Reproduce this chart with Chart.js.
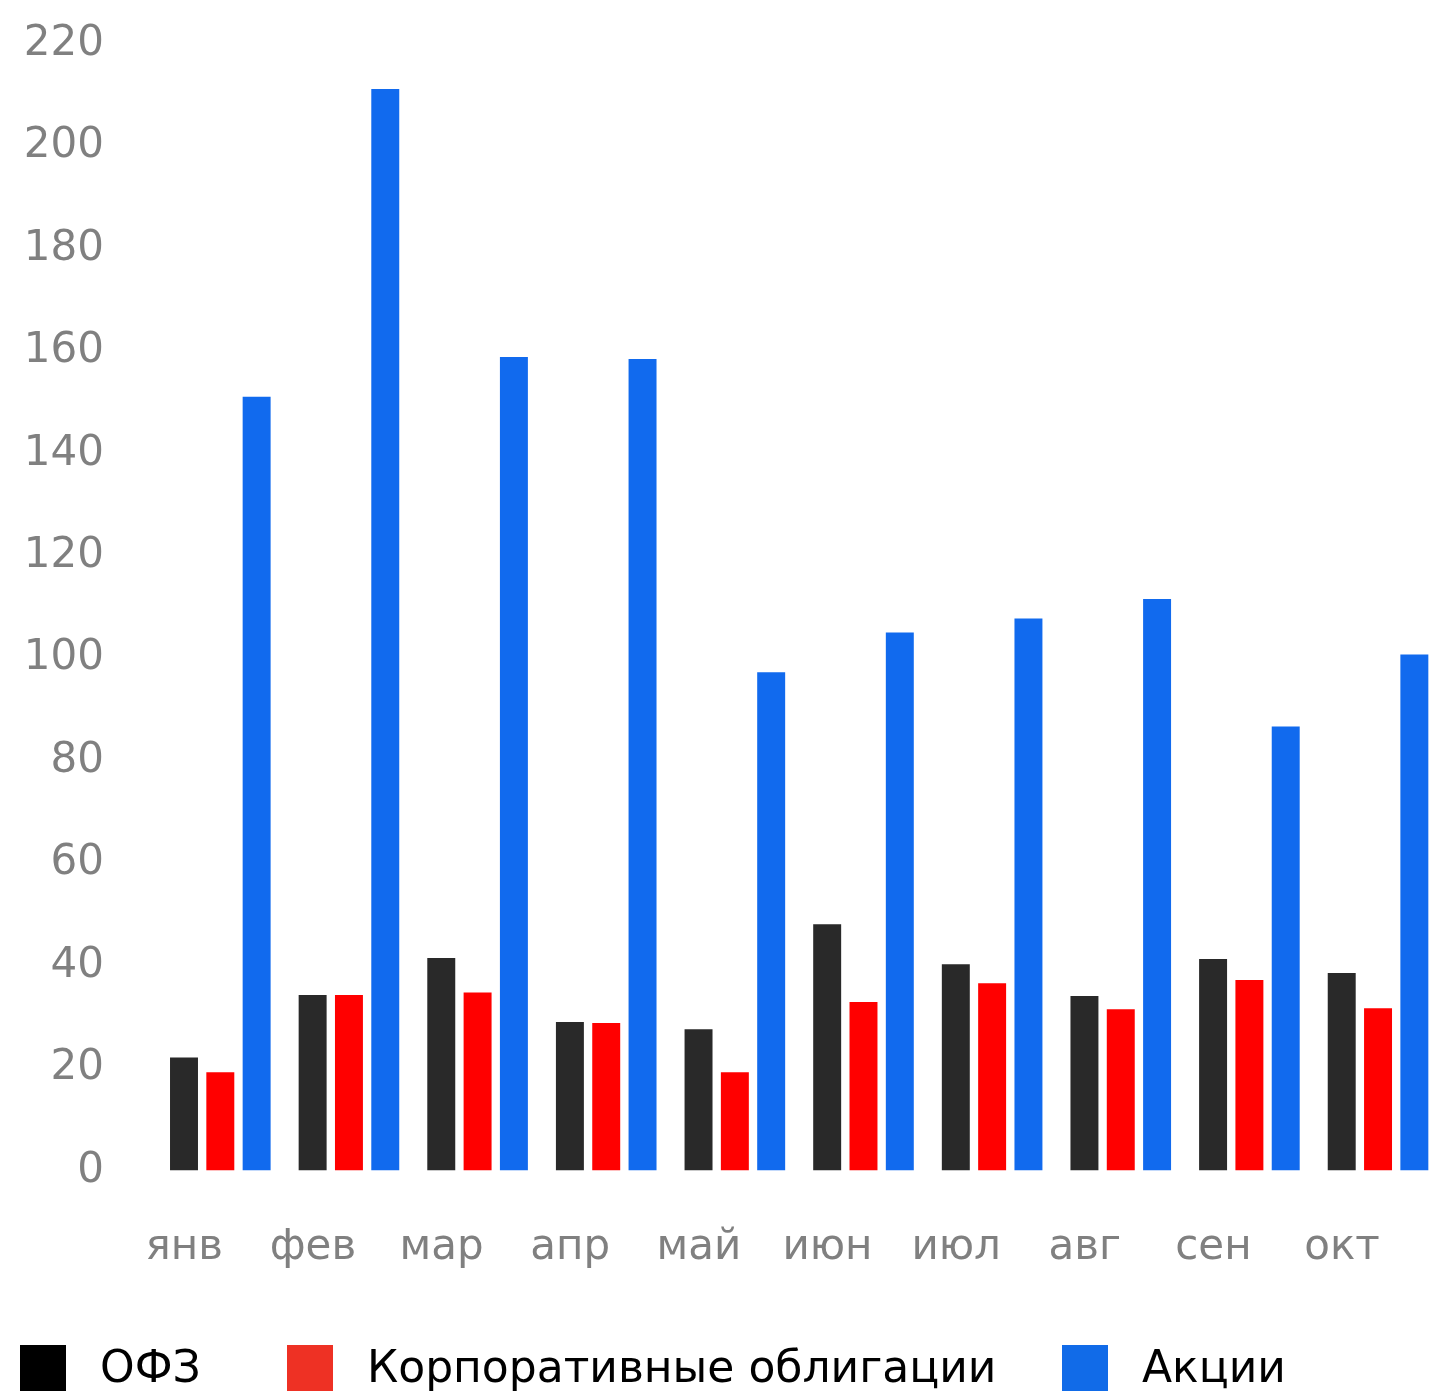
<!DOCTYPE html>
<html lang="ru">
<head>
<meta charset="utf-8">
<title>Структура портфеля по месяцам</title>
<script src="https://cdn.jsdelivr.net/npm/chart.js@4.4.1/dist/chart.umd.min.js"></script>
<style>
  html, body { margin: 0; padding: 0; background: #fff; overflow: hidden; }
  #wrap { position: absolute; left: 0; top: 0; width: 1468px; height: 1355px; }
  #legend { position: absolute; left: 0; top: 1345px; width: 1430px; height: 60px;
            font-family: 'DejaVu Sans', sans-serif; font-size: 44px; color: #000; }
  .item { position: absolute; top: 0; height: 46px; white-space: nowrap; }
  .box { position: absolute; left: 0; top: 0; width: 46px; height: 46px; }
  .txt { position: absolute; left: 80px; top: -8px; line-height: 60px; }
</style>
</head>
<body>
<div id="wrap"><canvas id="grafico" width="1468" height="1355"></canvas></div>
<div id="legend"></div>
<script>
// месяцы и значения по трём классам активов
var meses = ["янв", "фев", "мар", "апр", "май", "июн", "июл", "авг", "сен", "окт"];
var ofz = [22.1, 34.3, 41.5, 29.0, 27.6, 48.1, 40.3, 34.1, 41.3, 38.6];
var corporativos = [19.2, 34.3, 34.8, 28.8, 19.2, 32.9, 36.6, 31.5, 37.2, 31.7];
var acciones = [151.1, 211.2, 158.9, 158.5, 97.3, 105.1, 107.8, 111.6, 86.7, 100.8];
var ticksY = [0, 20, 40, 60, 80, 100, 120, 140, 160, 180, 200, 220];

var nombres = ["ОФЗ", "Корпоративные облигации", "Акции"];
var coloresBarra = ["#292929", "#ff0000", "#116aee"];
var coloresLeyenda = ["#000000", "#ee3124", "#116be8"];
var posLeyenda = [20, 287, 1062];

Chart.defaults.font.family = "'DejaVu Sans', sans-serif";

var series = [ofz, corporativos, acciones];
var datasets = [];
for (var i = 0; i < series.length; i++) {
  datasets.push({
    label: nombres[i],
    data: series[i],
    backgroundColor: coloresBarra[i],
    borderWidth: 0,
    categoryPercentage: 0.847,
    barPercentage: 0.77
  });
}

var ctx = document.getElementById("grafico").getContext("2d");
var grafico = new Chart(ctx, {
  type: 'bar',
  data: { labels: meses, datasets: datasets },
  options: {
    responsive: false,
    animation: false,
    layout: { padding: { top: 44, left: 24, right: 4, bottom: 30 } },
    plugins: { legend: { display: false }, tooltip: { enabled: false } },
    scales: {
      x: {
        grid: { display: false, drawTicks: false },
        border: { display: false },
        ticks: { color: "#808080", font: { size: 42 }, padding: 52, labelOffset: -36, maxRotation: 0, autoSkip: false }
      },
      y: {
        min: 0,
        max: 220,
        grid: { display: false, drawTicks: false },
        border: { display: false },
        afterBuildTicks: function(scale) {
          scale.ticks = ticksY.map(function(v) { return { value: v }; });
        },
        // ancho fijo del eje y sin margen extra arriba
        afterFit: function(scale) {
          scale.width = 132;
          scale.paddingTop = 0;
        },
        ticks: { color: "#808080", font: { size: 42 }, padding: 52 }
      }
    }
  }
});

// leyenda propia, debajo del gráfico
var leyenda = document.getElementById("legend");
for (var j = 0; j < nombres.length; j++) {
  var item = document.createElement("div");
  item.className = "item";
  item.style.left = posLeyenda[j] + "px";
  var caja = document.createElement("div");
  caja.className = "box";
  caja.style.background = coloresLeyenda[j];
  var texto = document.createElement("span");
  texto.className = "txt";
  texto.textContent = nombres[j];
  item.appendChild(caja);
  item.appendChild(texto);
  leyenda.appendChild(item);
}
</script>
</body>
</html>
